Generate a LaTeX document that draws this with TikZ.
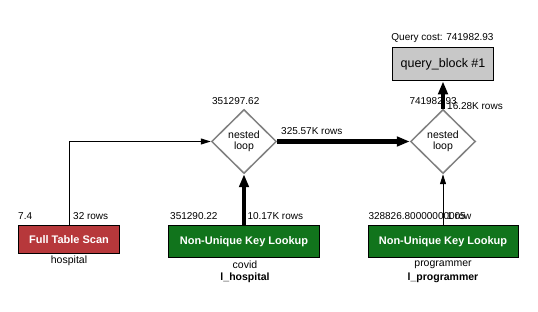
\documentclass[tikz,border=0pt]{standalone}
\usepackage{fontspec}
\setmainfont{Liberation Sans}
\usetikzlibrary{shapes.geometric,arrows.meta}
\definecolor{scanred}{RGB}{183,56,59}
\definecolor{lookupgreen}{RGB}{17,116,28}
\definecolor{blockgray}{RGB}{200,200,200}
\definecolor{loopgray}{RGB}{128,128,128}
\tikzset{
  opbox/.style={draw=black, line width=1pt, inner sep=0pt, text=white,
    font=\bfseries\fontsize{11}{13}\selectfont},
  loopnode/.style={diamond, draw=loopgray, line width=1.5pt, fill=white,
    minimum width=65pt, minimum height=64pt, inner sep=0pt, align=center,
    font=\fontsize{10.5}{10.5}\selectfont},
  lbl/.style={inner sep=0pt, font=\fontsize{10}{12}\selectfont},
  sublbl/.style={inner sep=0pt, font=\fontsize{10.5}{12}\selectfont},
  subbold/.style={inner sep=0pt, font=\bfseries\fontsize{10.5}{12}\selectfont},
  thinflow/.style={line width=1pt, -{Triangle[length=10pt,width=6pt]}},
  thickflow/.style={line width=4.3pt, -{Triangle[length=13pt,width=9.5pt]}},
}
\begin{document}
\begin{tikzpicture}[x=1pt,y=-1pt]
  \path[use as bounding box, fill=white] (0,0) rectangle (538,312);

  % operation boxes
  \node[opbox, fill=scanred, minimum width=101pt, minimum height=28pt] (scan) at (69,239.3) {Full Table Scan};
  \node[opbox, fill=lookupgreen, minimum width=151pt, minimum height=31.3pt] (look1) at (244,241.6) {Non-Unique Key Lookup};
  \node[opbox, fill=lookupgreen, minimum width=150pt, minimum height=31.3pt] (look2) at (443,241.6) {Non-Unique Key Lookup};
  \node[draw=black, line width=1pt, fill=blockgray, minimum width=101pt, minimum height=33.3pt, inner sep=0pt,
        font=\fontsize{12.5}{14}\selectfont] (qb) at (443,64.3) {query\_block \#1};

  % join nodes
  \node[loopnode] (nl1) at (244,141.5) {nested\\loop};
  \node[loopnode] (nl2) at (443,141.5) {nested\\loop};

  % data flow
  \draw[thinflow] (scan.north) |- (nl1.west);
  \draw[thickflow] (nl1.east) -- (nl2.west);
  \draw[thickflow] (look1.north) -- (nl1.south);
  \draw[thinflow] (look2.north) -- (nl2.south);
  \draw[thickflow] (nl2.north) -- (qb.south);

  % costs and row counts
  \node[lbl, anchor=base west] (c1) at (18,219.5) {7.4};
  \node[lbl, anchor=base west] (r1) at (73,219.5) {32 rows};
  \node[lbl, anchor=base] (c2) at (235.7,105) {351297.62};
  \node[lbl, anchor=base west] (r2) at (281,134.7) {325.57K rows};
  \node[lbl, anchor=base west] (c3) at (170,219.5) {351290.22};
  \node[lbl, anchor=base west] (r3) at (247.3,219.5) {10.17K rows};
  \node[lbl, anchor=base west] (c4) at (368.3,219.5) {328826.80000000005};
  \node[lbl, anchor=base east] (r4) at (471.5,219.5) {1 row};
  \node[lbl, anchor=base west] (c5) at (409.3,105) {741982.93};
  \node[lbl, anchor=base west] (r5) at (447,110) {16.28K rows};
  \node[lbl, anchor=base] (qc) at (442.5,41) {Query cost: 741982.93};

  % table and index names
  \node[sublbl, anchor=base] (t1) at (69,263.5) {hospital};
  \node[sublbl, anchor=base] (t2) at (245,269) {covid};
  \node[subbold, anchor=base] (k2) at (245,280.5) {l\_hospital};
  \node[sublbl, anchor=base] (t3) at (443,266.5) {programmer};
  \node[subbold, anchor=base] (k3) at (443,281) {l\_programmer};
\end{tikzpicture}
\end{document}
